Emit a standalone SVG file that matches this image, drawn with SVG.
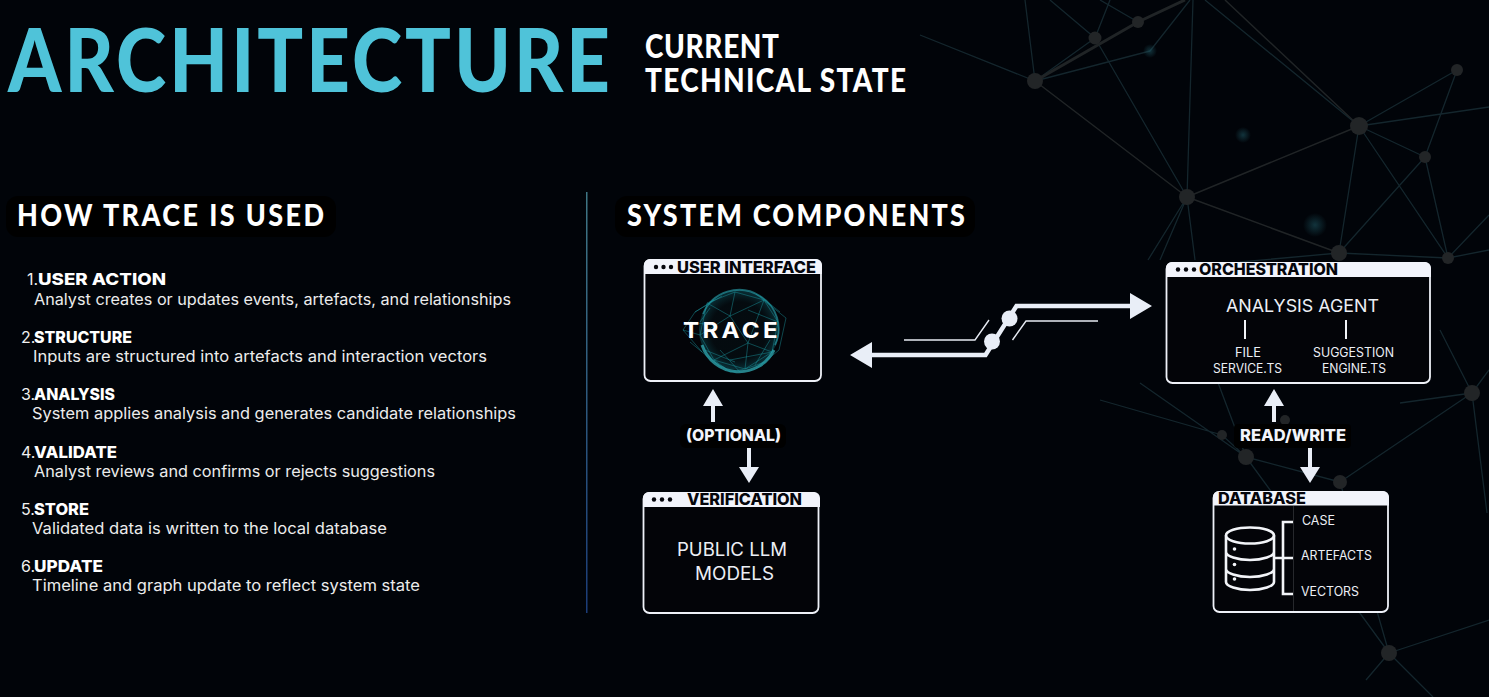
<svg xmlns="http://www.w3.org/2000/svg" width="1489" height="697" viewBox="0 0 1489 697">
<defs>
<linearGradient id="div" x1="0" y1="0" x2="0" y2="1"><stop offset="0" stop-color="#3f7684"/><stop offset="1" stop-color="#1b3c78"/></linearGradient>
<radialGradient id="glow"><stop offset="0" stop-color="#1f5a66" stop-opacity=".55"/><stop offset="1" stop-color="#1f5a66" stop-opacity="0"/></radialGradient>
<radialGradient id="sph" cx=".5" cy=".5" r=".5"><stop offset=".7" stop-color="#0b3238" stop-opacity=".15"/><stop offset="1" stop-color="#0e5660" stop-opacity=".55"/></radialGradient>
</defs>
<style>
text{font-family:"Inter","Liberation Sans",sans-serif}
.h{font-family:"Lato","Liberation Sans",sans-serif;font-weight:900;fill:#fff}
.nt{font-weight:800;font-size:16.5px;fill:#fff}
.nm{font-size:16px;fill:#f0f0f0}
.d{font-size:15.5px;fill:#ececec}
.hd{font-weight:800;font-size:16px;fill:#05060c}
.lb{font-weight:800;font-size:16px;fill:#f2f4fb}
.s{font-size:12.5px;fill:#eceff5}
.b{font-size:18px;fill:#eceff5}
.box{fill:#030408;stroke:#eef1f8;stroke-width:1.8}
.hb{fill:#f2f4fb}
.p{fill:#000}
.net{stroke:#14262d;stroke-width:1.3;fill:none}
.net2{stroke:#202426;stroke-width:1.5;fill:none}
.nd{fill:#222527}
.sl{stroke:#1ca3ad;stroke-width:.7;fill:none;opacity:.6}
.ar{fill:#e9eef7}
.as{stroke:#e9eef7;stroke-width:4.5;fill:none}
.th{stroke:#e6eaf2;stroke-width:1.4;fill:none}
.ic{stroke:#f2f4f8;stroke-width:2.6;fill:none}
.dk{fill:#05060c}
</style>
<rect width="1489" height="697" fill="#010409"/>
<g id="background-network">
<path class="net" d="M1035 81L920 35M1035 81L1095 38M1035 81L1025 0M1095 38L1187 197M1095 38L1050 0M1095 38L1110 0M1138 22L1100 0M1150 51L1190 0M1035 81L1150 51M1187 197L1193 0M1359 126L1205 0M1359 126L1457 70M1359 126L1489 107M1359 126L1425 157M1359 126L1339 253M1359 126L1448 258M1425 157L1457 70M1425 157L1448 258M1339 253L1425 157M1187 197L1148 260M1187 197L1160 260M1187 197L1195 260M1339 253L1240 262M1339 253L1448 258M1448 258L1489 215M1448 258L1489 250"/>
<path class="net2" d="M1035 81L1187 197M1187 197L1359 126M1187 197L1339 253M1359 126L1225 0"/>
<path d="M1035 81L1138 22L1185 0" stroke="#202426" stroke-width="3" fill="none"/>
<path class="net" d="M1140 383L1246 457M1100 400L1222 435L1246 457M1217 380L1246 457M1246 457L1340 482M1340 482L1472 393M1400 403L1472 393M1472 393L1487 513M1246 457L1389 653M1340 482L1389 653M1389 653L1489 620M1389 653L1433 697M1389 653L1366 680M1472 393L1440 330M1472 393L1489 370"/>
<circle class="nd" cx="1035" cy="81" r="8"/><circle class="nd" cx="1095" cy="38" r="6.500"/><circle class="nd" cx="1138" cy="22" r="6"/><circle class="nd" cx="1187" cy="197" r="8"/><circle class="nd" cx="1359" cy="126" r="9"/><circle class="nd" cx="1339" cy="253" r="8"/><circle class="nd" cx="1457" cy="70" r="6"/><circle class="nd" cx="1425" cy="157" r="6"/><circle class="nd" cx="1448" cy="258" r="6"/><circle class="nd" cx="1246" cy="457" r="8"/><circle class="nd" cx="1340" cy="482" r="7"/><circle class="nd" cx="1285" cy="420" r="5"/><circle class="nd" cx="1222" cy="435" r="5"/><circle class="nd" cx="1367" cy="577" r="5"/><circle class="nd" cx="1389" cy="653" r="8"/><circle class="nd" cx="1472" cy="393" r="8"/>
<circle cx="1150" cy="51" r="7" fill="url(#glow)"/><circle cx="1243" cy="135" r="8" fill="url(#glow)"/><circle cx="1315" cy="225" r="12" fill="url(#glow)"/>
</g>
<rect class="p" x="6" y="196" width="330" height="41" rx="12"/>
<rect class="p" x="615" y="196" width="360" height="41" rx="12"/>
<g id="title">
<text class="h" transform="translate(8 92) scale(1 1.16)" font-size="76" textLength="602" lengthAdjust="spacing" style="fill:#4fc3d9">ARCHITECTURE</text>
<text class="h" transform="translate(645 58) scale(1 1.14)" font-size="28" textLength="134" lengthAdjust="spacing">CURRENT</text>
<text class="h" transform="translate(645 92) scale(1 1.14)" font-size="28" textLength="261" lengthAdjust="spacing">TECHNICAL STATE</text>
</g>
<g id="how-trace-is-used">
<text class="h" transform="translate(17 226) scale(1 1.12)" font-size="27" textLength="307" lengthAdjust="spacing">HOW TRACE IS USED</text>
<text class="nm" x="27" y="285">1.</text><text class="nt" x="38" y="285" textLength="128" lengthAdjust="spacingAndGlyphs">USER ACTION</text>
<text class="d" x="34" y="305" textLength="477" lengthAdjust="spacingAndGlyphs">Analyst creates or updates events, artefacts, and relationships</text>
<text class="nm" x="21" y="343">2.</text><text class="nt" x="34" y="343" textLength="98" lengthAdjust="spacingAndGlyphs">STRUCTURE</text>
<text class="d" x="33" y="362" textLength="454" lengthAdjust="spacingAndGlyphs">Inputs are structured into artefacts and interaction vectors</text>
<text class="nm" x="21" y="400">3.</text><text class="nt" x="34" y="400" textLength="81" lengthAdjust="spacingAndGlyphs">ANALYSIS</text>
<text class="d" x="32" y="419" textLength="484" lengthAdjust="spacingAndGlyphs">System applies analysis and generates candidate relationships</text>
<text class="nm" x="21" y="458">4.</text><text class="nt" x="34" y="458" textLength="83" lengthAdjust="spacingAndGlyphs">VALIDATE</text>
<text class="d" x="34" y="477" textLength="401" lengthAdjust="spacingAndGlyphs">Analyst reviews and confirms or rejects suggestions</text>
<text class="nm" x="21" y="515">5.</text><text class="nt" x="34" y="515" textLength="55" lengthAdjust="spacingAndGlyphs">STORE</text>
<text class="d" x="32" y="534" textLength="355" lengthAdjust="spacingAndGlyphs">Validated data is written to the local database</text>
<text class="nm" x="21" y="572">6.</text><text class="nt" x="34" y="572" textLength="69" lengthAdjust="spacingAndGlyphs">UPDATE</text>
<text class="d" x="32" y="591" textLength="388" lengthAdjust="spacingAndGlyphs">Timeline and graph update to reflect system state</text>
</g>
<rect x="586" y="192" width="1.5" height="421" fill="url(#div)"/>
<text class="h" transform="translate(627 226) scale(1 1.12)" font-size="27" textLength="338" lengthAdjust="spacing">SYSTEM COMPONENTS</text>
<g id="connectors">
<path class="as" d="M870 355H985.500L1016.500 306H1132"/>
<path class="ar" d="M872 342V368L850 355ZM1130 293V319L1152 306Z"/>
<circle class="ar" cx="1009.500" cy="318.500" r="8"/><circle class="ar" cx="992" cy="341.500" r="8"/>
<path class="th" d="M904 340H975L989 320M1012.500 340L1026 321H1098"/>
<path class="ar" d="M711 422V406H703L713 389L723 406H715V422ZM747 448V467H739L749 483L759 467H751V448Z"/>
<path class="ar" d="M1272 422V406H1264L1274 389L1284 406H1276V422ZM1308 448V467H1300L1310 483L1320 467H1312V448Z"/>
</g>
<rect class="p" x="680" y="424" width="106" height="24" rx="6"/>
<text class="lb" x="686" y="441" textLength="95" lengthAdjust="spacingAndGlyphs">(OPTIONAL)</text>
<rect class="p" x="1234" y="424" width="117" height="24" rx="4"/>
<text class="lb" x="1240" y="441" textLength="106" lengthAdjust="spacingAndGlyphs">READ/WRITE</text>
<g id="user-interface">
<rect class="box" x="644.500" y="260" width="176.500" height="121" rx="6"/>
<path class="hb" d="M644 274V265a6 6 0 0 1 6-6H816a6 6 0 0 1 6 6V274Z"/>
<circle class="dk" cx="656" cy="267" r="2.200"/><circle class="dk" cx="663.500" cy="267" r="2.200"/><circle class="dk" cx="671" cy="267" r="2.200"/>
<text class="hd" x="677" y="273" textLength="139" lengthAdjust="spacingAndGlyphs">USER INTERFACE</text>
<circle cx="739" cy="330" r="40" fill="url(#sph)"/>
<path d="M703 314A39 39 0 0 1 760 296A38 38 0 0 1 775 345" fill="none" stroke="#2aa7b2" stroke-width="1.800" opacity=".6"/>
<path d="M702 345A39 39 0 0 0 774 350" fill="none" stroke="#35b7c1" stroke-width="3" opacity=".7"/>
<path class="sl" d="M707 303L735 292L764 300L778 322L772 352L745 369L714 360L700 335ZM707 303L730 316L764 300M730 316L748 343L772 352M748 343L714 360M748 343L745 369M730 316L700 335M735 292L730 316M764 300L748 343M722 296L695 312L683 330L702 352L722 368M695 312L714 300M683 330L700 335M702 352L690 342M756 294L786 318L779 350L756 369M778 322L748 310M714 360L730 372L745 369L765 362M720 350L740 372M730 360L772 352M705 350L735 362M770 340L755 365M760 296L780 312M710 308L700 322M690 322L712 325"/>
<text x="683" y="338" font-size="22" font-weight="700" fill="#fff" letter-spacing="3" textLength="98" lengthAdjust="spacingAndGlyphs">TRACE</text>
</g>
<g id="verification">
<rect class="box" x="643.500" y="493" width="175" height="120" rx="6"/>
<path class="hb" d="M643 507V498a6 6 0 0 1 6-6H814a6 6 0 0 1 6 6V507Z"/>
<circle class="dk" cx="654" cy="499.500" r="2.200"/><circle class="dk" cx="662" cy="499.500" r="2.200"/><circle class="dk" cx="670" cy="499.500" r="2.200"/>
<text class="hd" x="687" y="505" textLength="115" lengthAdjust="spacingAndGlyphs">VERIFICATION</text>
<text class="b" x="677" y="556" textLength="110" lengthAdjust="spacingAndGlyphs">PUBLIC LLM</text>
<text class="b" x="695" y="580" textLength="79" lengthAdjust="spacingAndGlyphs">MODELS</text>
</g>
<g id="orchestration">
<rect class="box" x="1166.500" y="263" width="263.500" height="120" rx="6"/>
<path class="hb" d="M1166 277V268a6 6 0 0 1 6-6H1425a6 6 0 0 1 6 6V277Z"/>
<circle class="dk" cx="1178" cy="269.500" r="2.200"/><circle class="dk" cx="1186" cy="269.500" r="2.200"/><circle class="dk" cx="1194" cy="269.500" r="2.200"/>
<text class="hd" x="1199" y="275" textLength="139" lengthAdjust="spacingAndGlyphs">ORCHESTRATION</text>
<text x="1226" y="312" font-size="17" fill="#eceff5" textLength="153" lengthAdjust="spacingAndGlyphs">ANALYSIS AGENT</text>
<path d="M1245 320V339M1346 320V339" stroke="#f2f4f8" stroke-width="2" fill="none"/>
<text class="s" x="1235" y="357" textLength="26" lengthAdjust="spacingAndGlyphs">FILE</text>
<text class="s" x="1213" y="373" textLength="69" lengthAdjust="spacingAndGlyphs">SERVICE.TS</text>
<text class="s" x="1313" y="357" textLength="81" lengthAdjust="spacingAndGlyphs">SUGGESTION</text>
<text class="s" x="1322" y="373" textLength="64" lengthAdjust="spacingAndGlyphs">ENGINE.TS</text>
</g>
<g id="database">
<rect class="box" x="1213.500" y="492" width="174.500" height="120" rx="6"/>
<path class="hb" d="M1213 505.500V497a6 6 0 0 1 6-6H1383a6 6 0 0 1 6 6V505.500Z"/>
<text class="hd" x="1218" y="503.500" textLength="88" lengthAdjust="spacingAndGlyphs">DATABASE</text>
<path d="M1293.500 506V611" stroke="#26282c" stroke-width="1" fill="none"/>
<ellipse class="ic" cx="1250" cy="535.500" rx="24" ry="8"/>
<path class="ic" d="M1226 535.500V582C1226 586 1237 590 1250 590S1274 586 1274 582V535.500M1226 552C1226 556 1237 560 1250 560S1274 556 1274 552M1226 569C1226 573 1237 577 1250 577S1274 573 1274 569"/>
<path class="ic" d="M1274 558H1293M1293 522H1283V594H1293"/>
<circle cx="1234.500" cy="549" r="1.800" fill="#f2f4f8"/><circle cx="1234.500" cy="564.500" r="1.800" fill="#f2f4f8"/><circle cx="1234.500" cy="579" r="1.800" fill="#f2f4f8"/>
<text class="s" x="1302" y="525" textLength="33" lengthAdjust="spacingAndGlyphs">CASE</text>
<text class="s" x="1301" y="560" textLength="71" lengthAdjust="spacingAndGlyphs">ARTEFACTS</text>
<text class="s" x="1301" y="596" textLength="58" lengthAdjust="spacingAndGlyphs">VECTORS</text>
</g>
</svg>
